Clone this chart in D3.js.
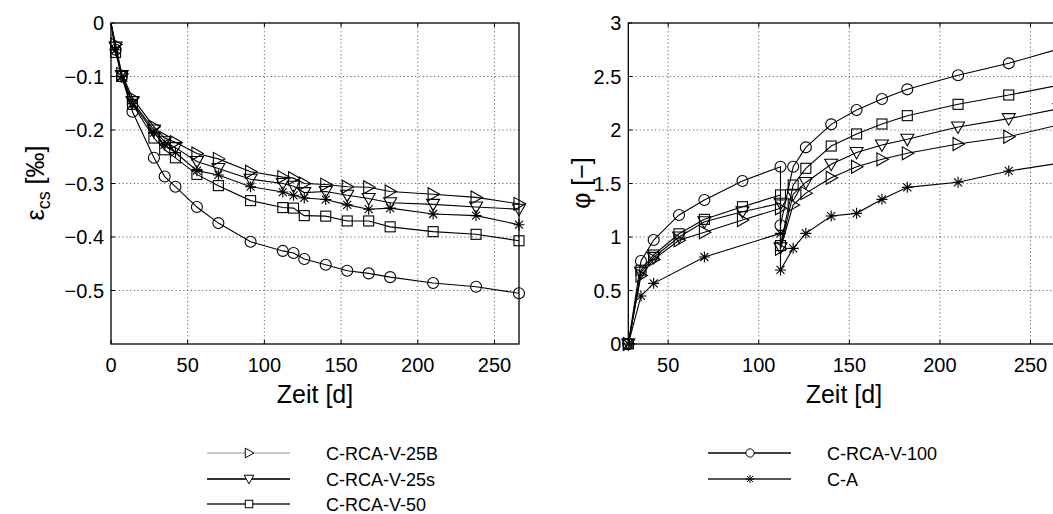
<!DOCTYPE html>
<html>
<head>
<meta charset="utf-8">
<script src="https://cdn.jsdelivr.net/npm/d3@7"></script>
<style>
  body { margin: 0; background: #fff; }
  svg { display: block; font-family: "Liberation Sans", Arial, sans-serif; }
</style>
</head>
<body>
<div id="chart"></div>
<script>
// shrinkage (left) - days and values per series
const daysShrink = [0, 3, 7, 14, 28, 35, 42, 56, 70, 91, 112, 119, 126, 140, 154, 168, 182, 210, 238, 266];
const shrink25B = [0, -0.04, -0.095, -0.140, -0.194, -0.215, -0.223, -0.244, -0.254, -0.278, -0.288, -0.290, -0.300, -0.302, -0.306, -0.307, -0.315, -0.320, -0.326, -0.338];
const shrink25s = [0, -0.045, -0.098, -0.147, -0.200, -0.222, -0.233, -0.259, -0.272, -0.292, -0.300, -0.305, -0.317, -0.315, -0.322, -0.328, -0.336, -0.339, -0.344, -0.348];
const shrink50 = [0, -0.055, -0.10, -0.152, -0.215, -0.237, -0.252, -0.283, -0.304, -0.332, -0.345, -0.346, -0.360, -0.361, -0.370, -0.370, -0.381, -0.390, -0.395, -0.407];
const shrink100 = [0, -0.05, -0.10, -0.166, -0.252, -0.287, -0.306, -0.344, -0.374, -0.409, -0.426, -0.430, -0.441, -0.452, -0.463, -0.468, -0.475, -0.486, -0.493, -0.505];
const shrinkCA = [0, -0.05, -0.10, -0.150, -0.205, -0.228, -0.242, -0.276, -0.284, -0.306, -0.316, -0.322, -0.327, -0.330, -0.340, -0.348, -0.346, -0.357, -0.360, -0.377];

// creep coefficient (right) - second loading at day 112
const daysCreep = [28, 35, 42, 56, 70, 91, 112, 112, 119, 126, 140, 154, 168, 182, 210, 238, 266];
const daysCreepCA = [28, 35, 42, 70, 112, 112, 119, 126, 140, 154, 168, 182, 210, 238, 266];
const creep25B = [0, 0.64, 0.79, 0.97, 1.044, 1.159, 1.268, 0.89, 1.30, 1.41, 1.554, 1.657, 1.726, 1.782, 1.869, 1.937, 2.05];
const creep25s = [0, 0.67, 0.81, 1.0, 1.143, 1.236, 1.315, 0.90, 1.40, 1.51, 1.68, 1.79, 1.86, 1.913, 2.028, 2.106, 2.20];
const creep50 = [0, 0.69, 0.832, 1.03, 1.165, 1.283, 1.393, 0.92, 1.486, 1.642, 1.850, 1.963, 2.056, 2.134, 2.240, 2.327, 2.42];
const creep100 = [0, 0.776, 0.972, 1.206, 1.346, 1.523, 1.657, 1.11, 1.657, 1.838, 2.053, 2.187, 2.29, 2.38, 2.511, 2.623, 2.76];
const creepCA = [0, 0.449, 0.567, 0.813, 1.034, 0.692, 0.894, 1.034, 1.196, 1.221, 1.352, 1.464, 1.511, 1.617, 1.69];

const xTicks = [0, 50, 100, 150, 200, 250];
const yTicksShrink = [0, -0.1, -0.2, -0.3, -0.4, -0.5];
const yTicksCreep = [0, 0.5, 1, 1.5, 2, 2.5, 3];

const seriesNames = ["C-RCA-V-25B", "C-RCA-V-25s", "C-RCA-V-50", "C-RCA-V-100", "C-A"];
const seriesMarkers = ["tri-right", "tri-down", "square", "circle", "star"];

const width = 1053, height = 514;

const svg = d3.select("#chart").append("svg")
    .attr("width", width)
    .attr("height", height);

function drawMarker(g, type, x, y, k = 1) {
    let s = 5.5 * k, d = 4 * k;
    switch (type) {
        case "circle":
            g.append("circle").attr("cx", x).attr("cy", y).attr("r", 5.5 * k);
            break;
        case "square":
            g.append("rect").attr("x", x - 5 * k).attr("y", y - 5 * k).attr("width", 10 * k).attr("height", 10 * k);
            break;
        case "tri-down":
            g.append("path").attr("d", `M${x - 6.5 * k},${y - 5 * k} L${x + 6.5 * k},${y - 5 * k} L${x},${y + 6.5 * k} Z`);
            break;
        case "tri-right":
            g.append("path").attr("d", `M${x - 5 * k},${y - 6.5 * k} L${x - 5 * k},${y + 6.5 * k} L${x + 6.5 * k},${y} Z`);
            break;
        case "star":
            g.append("path").attr("d",
                `M${x - s},${y} L${x + s},${y} M${x},${y - s} L${x},${y + s} ` +
                `M${x - d},${y - d} L${x + d},${y + d} M${x - d},${y + d} L${x + d},${y - d}`);
            break;
    }
}

function drawPanel(opts) {
    const { x, y, xTickVals, yTickVals, yFormat, series, skipZeroMarker } = opts;
    const [x0, x1] = x.range();
    const [y0, y1] = y.range(); // y0 bottom, y1 top
    const g = svg.append("g");

    // grid
    const grid = g.append("g")
        .attr("stroke", "#555")
        .attr("stroke-width", 0.9)
        .attr("stroke-dasharray", "1.2,2.6");
    xTickVals.filter(v => x(v) > x0 + 1 && x(v) < Math.min(x1, width)).forEach(v => {
        grid.append("line").attr("x1", x(v)).attr("x2", x(v)).attr("y1", y0).attr("y2", y1);
    });
    yTickVals.filter(v => y(v) < y0 - 1 && y(v) > y1 + 1).forEach(v => {
        grid.append("line").attr("x1", x0).attr("x2", x1).attr("y1", y(v)).attr("y2", y(v));
    });

    // series
    const line = d3.line().x(d => x(d[0])).y(d => y(d[1]));
    series.forEach(s => {
        const pts = s.days.map((d, i) => [d, s.values[i]]);
        g.append("path")
            .attr("d", line(pts))
            .attr("fill", "none")
            .attr("stroke", "#000")
            .attr("stroke-width", 1.1);
        const mg = g.append("g")
            .attr("fill", "none")
            .attr("stroke", "#000")
            .attr("stroke-width", 1.1);
        pts.forEach(p => {
            if (skipZeroMarker && p[0] === 0) return;
            drawMarker(mg, s.marker, x(p[0]), y(p[1]));
        });
    });

    // frame
    g.append("rect")
        .attr("x", x0).attr("y", y1)
        .attr("width", x1 - x0).attr("height", y0 - y1)
        .attr("fill", "none")
        .attr("stroke", "#000")
        .attr("stroke-width", 1.3);

    // ticks (inside) + labels
    const ticks = g.append("g").attr("stroke", "#000").attr("stroke-width", 1);
    xTickVals.filter(v => x(v) >= x0 - 0.5 && x(v) <= Math.min(x1, width)).forEach(v => {
        ticks.append("line").attr("x1", x(v)).attr("x2", x(v)).attr("y1", y0).attr("y2", y0 - 4);
        ticks.append("line").attr("x1", x(v)).attr("x2", x(v)).attr("y1", y1).attr("y2", y1 + 4);
        g.append("text")
            .attr("x", x(v)).attr("y", y0 + 28)
            .attr("text-anchor", "middle")
            .attr("font-size", 20)
            .text(v);
    });
    yTickVals.forEach(v => {
        ticks.append("line").attr("x1", x0).attr("x2", x0 + 4).attr("y1", y(v)).attr("y2", y(v));
        g.append("text")
            .attr("x", x0 - 7).attr("y", y(v) + 7)
            .attr("text-anchor", "end")
            .attr("font-size", 20)
            .text(yFormat(v));
    });

    // x label
    g.append("text")
        .attr("x", (x0 + x1) / 2).attr("y", y0 + 59)
        .attr("text-anchor", "middle")
        .attr("font-size", 25)
        .text("Zeit [d]");
    return g;
}

// left panel
const xL = d3.scaleLinear().domain([0, 266]).range([111, 519]);
const yL = d3.scaleLinear().domain([-0.6, 0]).range([344, 23]);
const shrinkSeries = [shrink25B, shrink25s, shrink50, shrink100, shrinkCA].map((v, i) => ({
    days: daysShrink, values: v, marker: seriesMarkers[i]
}));
drawPanel({
    x: xL, y: yL, xTickVals: xTicks, yTickVals: yTicksShrink,
    yFormat: v => v === 0 ? "0" : d3.format(".1f")(v),
    series: shrinkSeries, skipZeroMarker: true
});

// right panel
const xR = d3.scaleLinear().domain([28, 266]).range([628.3, 1059.5]);
const yR = d3.scaleLinear().domain([0, 3]).range([344, 23]);
const creepSeries = [creep25B, creep25s, creep50, creep100, creepCA].map((v, i) => ({
    days: i === 4 ? daysCreepCA : daysCreep, values: v, marker: seriesMarkers[i]
}));
drawPanel({
    x: xR, y: yR, xTickVals: xTicks.filter(v => v >= 28), yTickVals: yTicksCreep,
    yFormat: d3.format("~g"),
    series: creepSeries, skipZeroMarker: false
});

// y labels
const labL = svg.append("text")
    .attr("transform", "translate(44,183) rotate(-90)")
    .attr("text-anchor", "middle")
    .attr("font-size", 25);
labL.append("tspan").text("ε");
labL.append("tspan").attr("font-size", 18).attr("dy", 6).text("cs");
labL.append("tspan").attr("dy", -6).text(" [‰]");

svg.append("text")
    .attr("transform", "translate(590,183) rotate(-90)")
    .attr("text-anchor", "middle")
    .attr("font-size", 25)
    .text("φ [−]");

// legend
const legendPos = [
    { x: 207, y: 453 }, { x: 207, y: 479 }, { x: 207, y: 504 },
    { x: 708, y: 453 }, { x: 708, y: 479 }
];
const legendStroke = ["#999", "#333", "#222", "#000", "#555"];
const legendWidth = [1, 2, 1.5, 1.5, 2];
seriesNames.forEach((name, i) => {
    const p = legendPos[i];
    const lg = svg.append("g");
    lg.append("line")
        .attr("x1", p.x).attr("x2", p.x + 83)
        .attr("y1", p.y).attr("y2", p.y)
        .attr("stroke", legendStroke[i])
        .attr("stroke-width", legendWidth[i]);
    const mg = lg.append("g").attr("fill", "#fff").attr("stroke", "#000").attr("stroke-width", 1);
    drawMarker(mg, seriesMarkers[i], p.x + 42, p.y, 0.75);
    lg.append("text")
        .attr("x", p.x + 119).attr("y", p.y + 6.5)
        .attr("font-size", 18)
        .text(name);
});
</script>
</body>
</html>
